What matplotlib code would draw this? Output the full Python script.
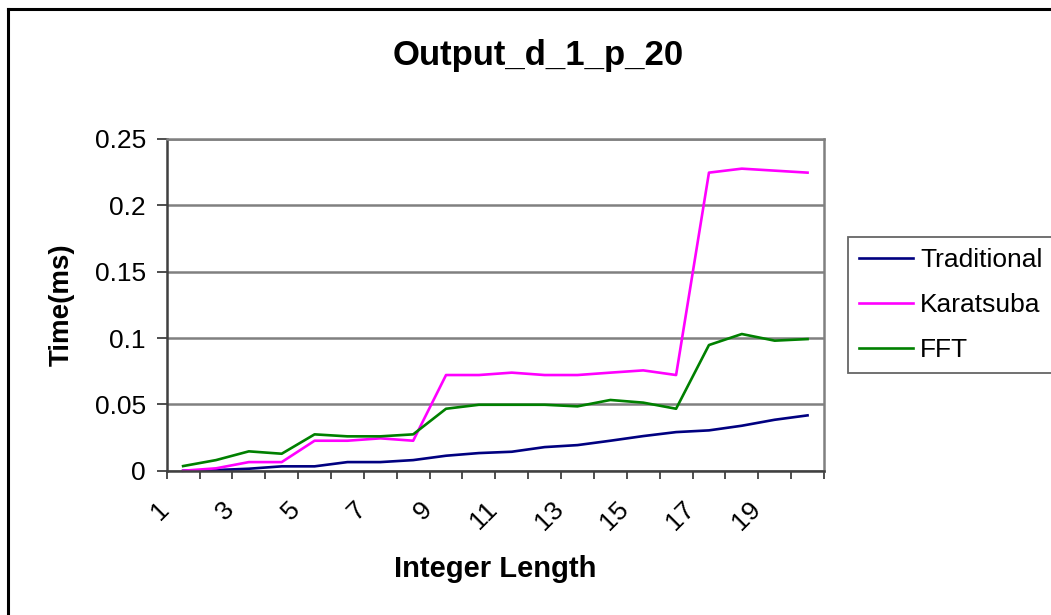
import matplotlib
matplotlib.use('Agg')
import matplotlib.pyplot as plt
from matplotlib.lines import Line2D
from matplotlib.transforms import ScaledTranslation

plt.rcParams['font.family'] = ['Liberation Sans', 'DejaVu Sans']

# timings per integer length (ms)
lengths = list(range(1, 21))
traditional = [0, 0.0005, 0.0015, 0.0033, 0.0033, 0.0065, 0.0065, 0.008, 0.0113, 0.0133,
               0.0143, 0.0178, 0.0193, 0.0226, 0.0261, 0.0291, 0.0304, 0.0339, 0.0384, 0.0417]
karatsuba = [0, 0.0018, 0.0065, 0.0065, 0.0226, 0.0226, 0.0244, 0.0226, 0.0721, 0.0721,
             0.0739, 0.0721, 0.0721, 0.0739, 0.0756, 0.0721, 0.2246, 0.2276, 0.2261, 0.2246]
fft = [0.0035, 0.008, 0.0146, 0.0128, 0.0274, 0.0259, 0.0259, 0.0274, 0.0467, 0.0497,
       0.0497, 0.0497, 0.0485, 0.0533, 0.0513, 0.0467, 0.0947, 0.103, 0.098, 0.0992]
y_ticks = [0, 0.05, 0.1, 0.15, 0.2, 0.25]
y_labels = ['0', '0.05', '0.1', '0.15', '0.2', '0.25']

fig = plt.figure(figsize=(10.51, 6.15), dpi=100)
ax = fig.add_axes([0.1586, 0.2346, 0.6254, 0.5395])

ax.plot(lengths, traditional, color='#000080', lw=1.9, label='Traditional', clip_on=False)
ax.plot(lengths, karatsuba, color='#FF00FF', lw=1.9, label='Karatsuba', clip_on=False)
ax.plot(lengths, fft, color='#008000', lw=1.9, label='FFT', clip_on=False)

ax.set_xlim(0.5, 20.5)
ax.set_ylim(0, 0.25)

# labels on every other category, tick marks on category boundaries
ax.set_xticks([v + 0.5 for v in range(0, 21)], minor=True)
ax.tick_params(axis='x', which='major', length=0, pad=25)
ax.tick_params(axis='x', which='minor', length=6, width=1.3, color='#404040', direction='out')
ax.set_yticks(y_ticks)
ax.set_yticklabels(y_labels, fontsize=19)
ax.tick_params(axis='y', length=7, width=1.3, color='#404040', direction='out', pad=8)

ax.set_xticks(lengths[::2])
ax.set_xticklabels([str(v) for v in lengths[::2]], rotation=45, ha='right',
                   va='center', rotation_mode='anchor', fontsize=19)
# slanted labels sit a little left of their category
shift = ScaledTranslation(-18 / 100, 0, fig.dpi_scale_trans)
for lbl in ax.get_xticklabels():
    lbl.set_transform(lbl.get_transform() + shift)

ax.grid(axis='y', color='#808080', lw=1.8)
ax.set_axisbelow(True)

for side in ['left', 'bottom']:
    ax.spines[side].set_color('#404040')
    ax.spines[side].set_linewidth(1.8)
for side in ['top', 'right']:
    ax.spines[side].set_color('#808080')
    ax.spines[side].set_linewidth(1.8)

ax.set_ylabel('Time(ms)', fontsize=20, fontweight='bold', labelpad=14)
ax.set_xlabel('Integer Length', fontsize=21, fontweight='bold')
ax.xaxis.label.set_va('center')
ax.xaxis.set_label_coords(0.5, -0.295)

fig.text(538 / 1051, 1 - 56 / 615, 'Output_d_1_p_20', fontsize=25, fontweight='bold',
         ha='center', va='center')

leg = fig.legend(loc='upper left', bbox_to_anchor=(848 / 1051, 1 - 237 / 615),
                 fontsize=19, frameon=True, fancybox=False, handlelength=2.05,
                 handletextpad=0.27, borderpad=0.42, labelspacing=0.8, borderaxespad=0)
leg.get_frame().set_edgecolor('#404040')
leg.get_frame().set_linewidth(1.3)
for h in leg.legend_handles:
    h.set_linewidth(1.9)

# chart border (top and left edges)
fig.add_artist(Line2D([8 / 1051, 8 / 1051], [0, 1 - 9 / 615], color='black', lw=2.2,
                      transform=fig.transFigure))
fig.add_artist(Line2D([8 / 1051, 1], [1 - 9 / 615, 1 - 9 / 615], color='black', lw=2.2,
                      transform=fig.transFigure))

fig.savefig('out.png', dpi=100)
